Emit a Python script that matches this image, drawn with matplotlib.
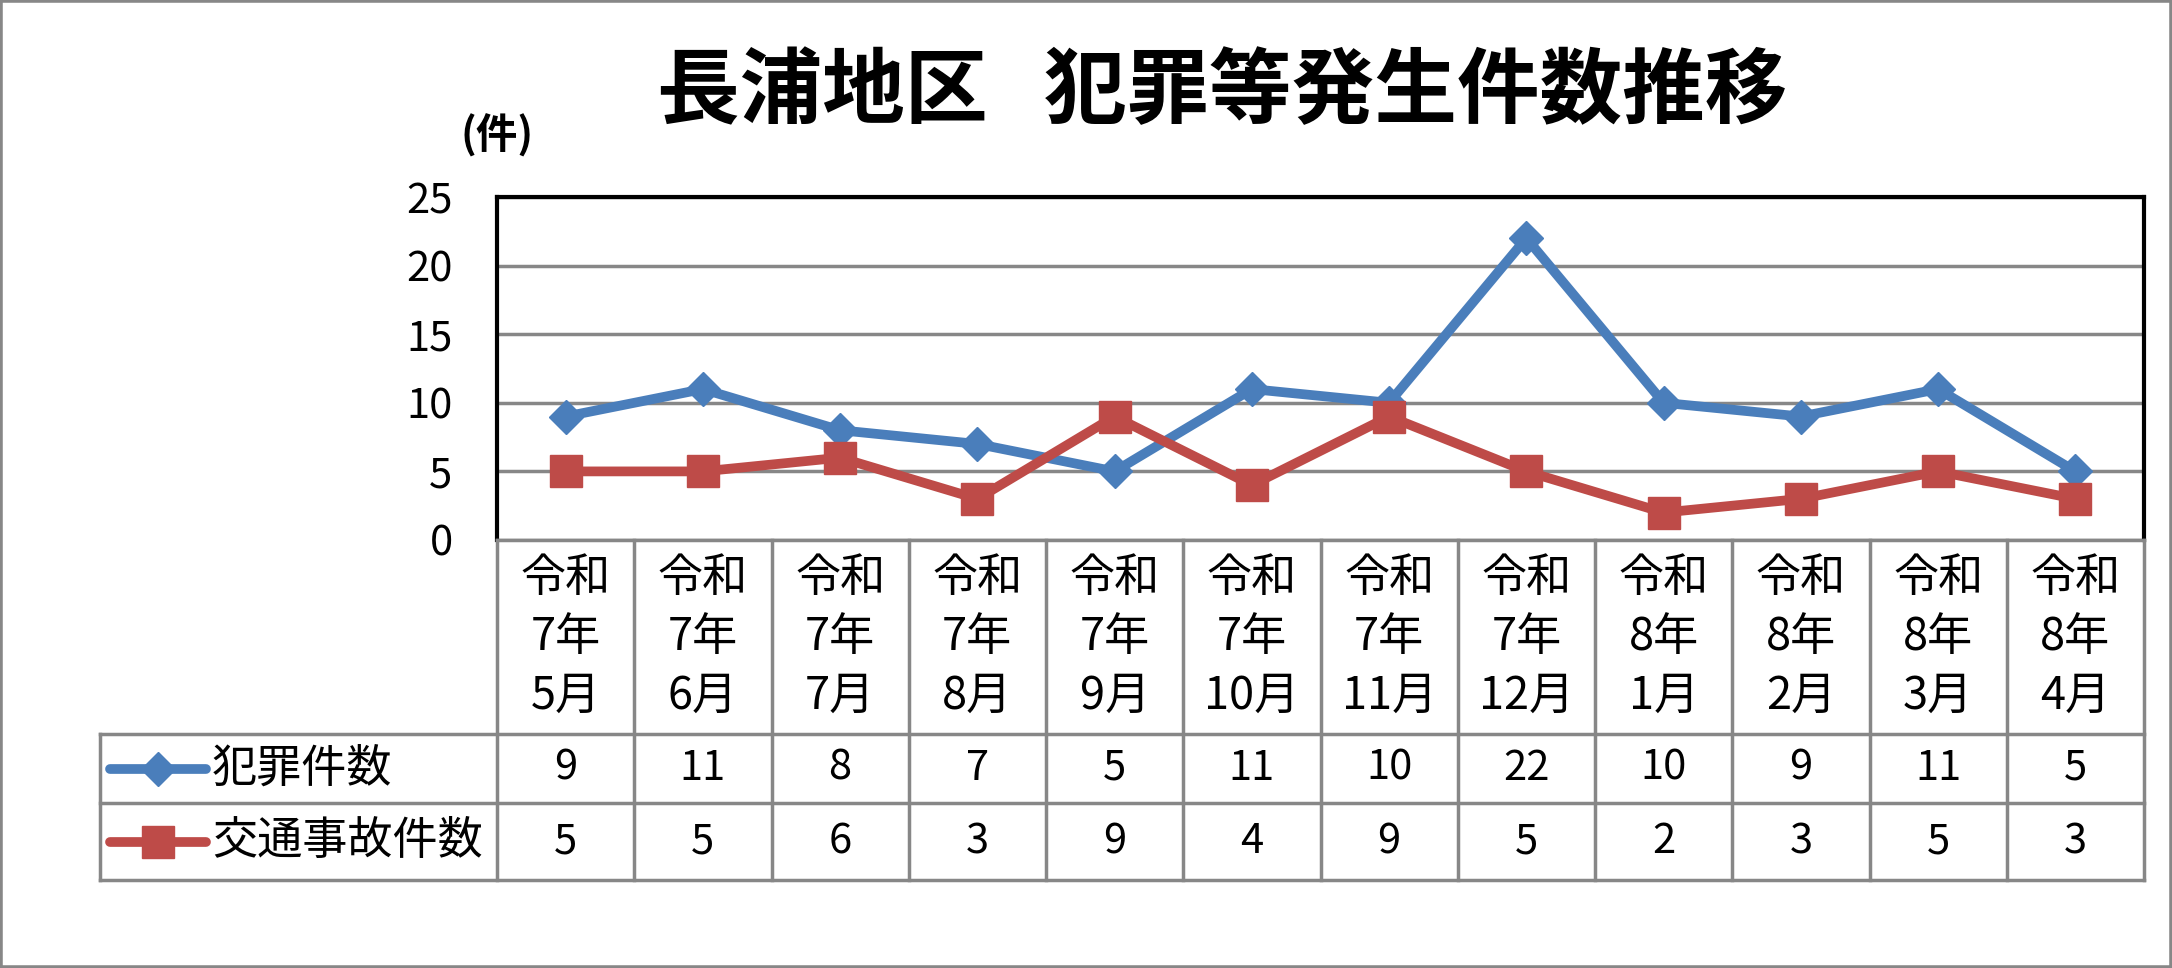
import matplotlib
matplotlib.use('Agg')
import matplotlib.pyplot as plt
from matplotlib.transforms import blended_transform_factory
from matplotlib.lines import Line2D
from matplotlib.patches import Rectangle
import numpy as np

plt.rcParams['font.family'] = ['Noto Sans CJK JP', 'DejaVu Sans']

# ---- data ----
title = '長浦地区   犯罪等発生件数推移'
unit_label = '(件)'
months = ['令和\n7年\n5月', '令和\n7年\n6月', '令和\n7年\n7月', '令和\n7年\n8月',
          '令和\n7年\n9月', '令和\n7年\n10月', '令和\n7年\n11月', '令和\n7年\n12月',
          '令和\n8年\n1月', '令和\n8年\n2月', '令和\n8年\n3月', '令和\n8年\n4月']
crime = [9, 11, 8, 7, 5, 11, 10, 22, 10, 9, 11, 5]
traffic = [5, 5, 6, 3, 9, 4, 9, 5, 2, 3, 5, 3]
series_names = ['犯罪件数', '交通事故件数']
yticks = [0, 5, 10, 15, 20, 25]

# ---- style ----
BLUE = '#4A7EBB'
RED = '#BE4B48'
GRID = '#878787'
FS = 30
FS_CJK = 32.5

W, H = 2172, 968
fig = plt.figure(figsize=(W / 100, H / 100), dpi=100)


def fx(px):
    return px / W


def fy(py):
    return 1 - py / H


L, R, T, B = 497, 2144, 197, 540
ax = fig.add_axes([fx(L), fy(B), fx(R - L), (B - T) / H])
x = np.arange(len(months))
ax.plot(x, crime, color=BLUE, lw=7, marker='D', ms=17, mec=BLUE, mfc=BLUE,
        solid_joinstyle='round', zorder=3, clip_on=False)
ax.plot(x, traffic, color=RED, lw=7, marker='s', ms=23, mec=RED, mfc=RED,
        solid_joinstyle='round', zorder=4, clip_on=False)
ax.set_xlim(-0.5, len(months) - 0.5)
ax.set_ylim(0, 25)
ax.set_yticks(yticks)
ax.set_xticks([])
ax.yaxis.grid(True, color=GRID, lw=2.5)
ax.set_axisbelow(True)
ax.tick_params(axis='y', length=0, pad=32, labelsize=FS)
for s in ['left', 'top', 'right']:
    ax.spines[s].set_color('black')
    ax.spines[s].set_linewidth(3)
ax.spines['bottom'].set_color(GRID)
ax.spines['bottom'].set_linewidth(2.5)

# ---- data table under the chart ----
trans = blended_transform_factory(ax.transData, fig.transFigure)
LEG_L = 100
ROW_Y = [734, 803, 880]

for i in range(len(months) + 1):
    fig.add_artist(Line2D([i - 0.5, i - 0.5], [fy(B), fy(ROW_Y[-1])],
                          transform=trans, color=GRID, lw=2.5))
fig.add_artist(Line2D([fx(LEG_L), fx(LEG_L)], [fy(ROW_Y[0]), fy(ROW_Y[-1])],
                      transform=fig.transFigure, color=GRID, lw=2.5))
for yy in ROW_Y:
    fig.add_artist(Line2D([fx(LEG_L), fx(R)], [fy(yy), fy(yy)],
                          transform=fig.transFigure, color=GRID, lw=2.5))

for i, m in enumerate(months):
    fig.text(i, fy(637), m, transform=trans, ha='center', va='center',
             fontsize=FS_CJK, linespacing=1.35)

row_centers = [(ROW_Y[0] + ROW_Y[1]) / 2, (ROW_Y[1] + ROW_Y[2]) / 2]
for vals, yc in zip([crime, traffic], row_centers):
    for i, v in enumerate(vals):
        fig.text(i, fy(yc), str(v), transform=trans, ha='center', va='center',
                 fontsize=FS)

for name, yc, col, mk, ms in zip(series_names, row_centers, [BLUE, RED],
                                  ['D', 's'], [17, 23]):
    fig.add_artist(Line2D([fx(110), fx(158), fx(206)], [fy(yc)] * 3,
                          transform=fig.transFigure, color=col, lw=7,
                          solid_capstyle='round', marker=mk, ms=ms,
                          markevery=[1], mec=col, mfc=col))
    fig.text(fx(212), fy(yc), name, ha='left', va='center', fontsize=FS_CJK)

# ---- titles ----
fig.text(fx(1222), fy(93), title, ha='center', va='center', fontsize=59.5,
         fontweight='bold')
fig.text(fx(497), fy(136), unit_label, ha='center', va='center', fontsize=30,
         fontweight='bold')

fig.add_artist(Rectangle((0, 0), 1, 1, transform=fig.transFigure, fill=False,
                         edgecolor=GRID, lw=4))

fig.savefig('out.png', dpi=100)
